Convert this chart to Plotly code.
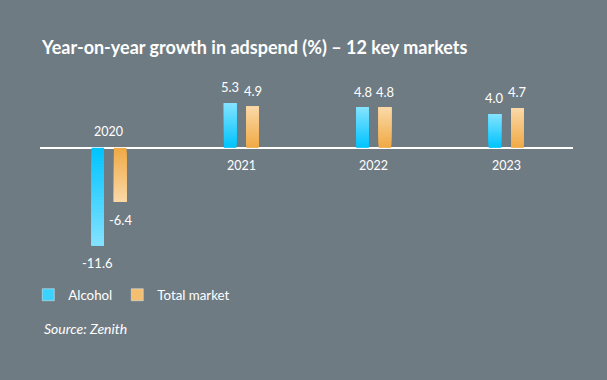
import plotly.graph_objects as go

years = ["2020", "2021", "2022", "2023"]
alcohol = [-11.6, 5.3, 4.8, 4.0]
total_market = [-6.4, 4.9, 4.8, 4.7]

BG = "#6f7b83"
FONT = "Lato"
N = 30

ALC_DARK, ALC_LIGHT = (0, 196, 255), (130, 226, 255)
TOT_DARK, TOT_LIGHT = (240, 170, 70), (250, 216, 166)

def mix(c1, c2, t):
    return "rgb(%d,%d,%d)" % tuple(round(a + (b - a) * t) for a, b in zip(c1, c2))

BAR_W = 0.094
SEP = 0.0846

def gradient_trace(values, center_off, dark, light):
    xs, bases, ys, cols = [], [], [], []
    for i, v in enumerate(values):
        for k in range(N):
            b = v * k / N
            xs.append(i)
            bases.append(b)
            ys.append(v - b)
            cols.append(mix(dark, light, k / (N - 1)))
    return go.Bar(x=xs, y=ys, base=bases, width=BAR_W, offset=center_off - BAR_W / 2,
                  marker=dict(color=cols, line=dict(width=0)), showlegend=False,
                  hoverinfo="skip")

fig = go.Figure()
fig.add_trace(gradient_trace(alcohol, -SEP, ALC_DARK, ALC_LIGHT))
fig.add_trace(gradient_trace(total_market, SEP, TOT_DARK, TOT_LIGHT))
fig.add_trace(go.Bar(x=[None], y=[None], name="Alcohol", marker_color=mix(ALC_DARK, ALC_LIGHT, 0.45)))
fig.add_trace(go.Bar(x=[None], y=[None], name="Total market", marker_color=mix(TOT_DARK, TOT_LIGHT, 0.45)))

annotations = []
for i, (a, t) in enumerate(zip(alcohol, total_market)):
    for v, off in ((a, -SEP), (t, SEP)):
        annotations.append(dict(x=i + off, y=v, xref="x", yref="y", text=f"{v:.1f}",
                                showarrow=False, yshift=16 if v >= 0 else -18,
                                font=dict(size=13, color="white", family=FONT)))
    neg = min(a, t) < 0
    annotations.append(dict(x=i, y=0, xref="x", yref="y", text=years[i], showarrow=False,
                            yshift=16 if neg else -18,
                            font=dict(size=12.5, color="white", family=FONT)))

annotations.append(dict(x=0.003, y=-0.292, xref="paper", yref="paper", xanchor="left",
                        yanchor="middle", text="<i>Source: Zenith</i>", showarrow=False,
                        font=dict(size=14, color="white", family=FONT)))

fig.update_layout(
    width=607, height=380,
    paper_bgcolor=BG, plot_bgcolor=BG,
    margin=dict(l=40, r=34, t=89, b=106),
    barmode="overlay",
    title=dict(text="<b>Year-on-year growth in adspend (%) – 12 key markets</b>",
               x=42 / 607, xanchor="left", xref="container",
               y=1 - 48 / 380, yanchor="middle",
               font=dict(size=18, color="white", family=FONT)),
    xaxis=dict(range=[-0.521, 3.505], showgrid=False, showticklabels=False,
               zeroline=False, showline=False, fixedrange=True),
    yaxis=dict(range=[-15, 7], showgrid=False, showticklabels=False,
               zeroline=True, zerolinecolor="white", zerolinewidth=1.5,
               showline=False, fixedrange=True),
    legend=dict(orientation="h", x=-0.022, xanchor="left", y=-0.114, yanchor="middle",
                font=dict(size=13.3, color="white", family=FONT),
                bgcolor="rgba(0,0,0,0)", traceorder="normal"),
    annotations=annotations,
    showlegend=True,
)

fig.write_html("out.html", config={"displayModeBar": False},
               post_script="document.body.style.margin='0';")
